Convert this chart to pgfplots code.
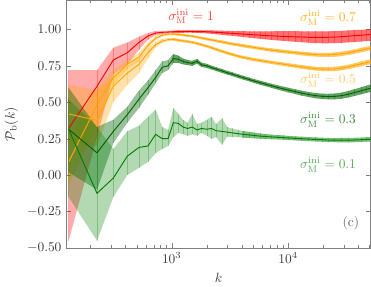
\documentclass[border=0pt]{standalone}
\usepackage{pgfplots}
\usepackage{pgfplotstable}
\pgfplotsset{compat=1.18}
\usepgfplotslibrary{fillbetween}
\definecolor{cred}{RGB}{255,0,0}
\definecolor{corange}{RGB}{255,165,0}
\definecolor{cdgreen}{RGB}{0,100,0}
\definecolor{cgreen}{RGB}{0,128,0}
\definecolor{axgray}{RGB}{128,128,128}
\definecolor{txgray}{RGB}{60,60,60}

\pgfplotstableread{
k m lo hi
130 0.32 -0.45 0.72
228 0.61 0.26 0.72
315 0.79 0.69 0.875
415 0.84 0.76 0.91
522 0.91 0.86 0.95
625 0.955 0.93 0.975
727 0.975 0.96 0.99
828 0.98 0.968 0.99
930 0.982 0.973 0.991
1032 0.984 0.976 0.992
1140 0.985 0.977 0.993
1250 0.985 0.977 0.993
1370 0.986 0.978 0.994
1500 0.986 0.977 0.994
1650 0.985 0.976 0.994
1800 0.985 0.975 0.994
2000 0.984 0.973 0.993
2200 0.982 0.970 0.993
2400 0.980 0.967 0.992
2700 0.978 0.963 0.991
3000 0.975 0.959 0.990
3300 0.973 0.956 0.989
3700 0.970 0.952 0.988
4100 0.968 0.948 0.988
4600 0.965 0.944 0.987
5100 0.963 0.940 0.987
5700 0.961 0.936 0.987
6400 0.958 0.932 0.987
7200 0.956 0.928 0.987
8000 0.954 0.925 0.988
9000 0.952 0.922 0.988
10000 0.951 0.919 0.988
11500 0.949 0.915 0.988
13000 0.948 0.912 0.987
15000 0.946 0.909 0.987
17000 0.945 0.906 0.986
19500 0.945 0.905 0.986
22000 0.946 0.905 0.987
25000 0.947 0.906 0.988
28500 0.950 0.908 0.990
32500 0.953 0.911 0.993
37000 0.957 0.914 0.995
42000 0.960 0.917 0.997
47000 0.963 0.920 0.999
51200 0.965 0.922 1.000
}\tred

\pgfplotstableread{
k m lo hi
130 0.09 -0.07 0.25
228 0.48 0.34 0.60
315 0.67 0.62 0.72
415 0.76 0.73 0.79
522 0.81 0.78 0.84
625 0.89 0.87 0.91
727 0.94 0.925 0.955
828 0.96 0.95 0.97
930 0.968 0.959 0.977
1032 0.968 0.960 0.976
1140 0.965 0.957 0.973
1250 0.961 0.953 0.969
1370 0.957 0.949 0.965
1500 0.953 0.945 0.961
1650 0.947 0.939 0.956
1800 0.941 0.932 0.950
2000 0.934 0.925 0.943
2200 0.928 0.919 0.937
2400 0.922 0.913 0.931
2700 0.914 0.904 0.924
3000 0.907 0.897 0.917
3300 0.900 0.890 0.910
3700 0.894 0.884 0.904
4100 0.888 0.877 0.899
4600 0.882 0.871 0.893
5100 0.876 0.865 0.887
5700 0.870 0.859 0.881
6400 0.864 0.853 0.875
7200 0.858 0.847 0.870
8000 0.854 0.842 0.866
9000 0.849 0.837 0.861
10000 0.845 0.833 0.857
11500 0.840 0.828 0.852
13000 0.835 0.822 0.848
15000 0.830 0.817 0.843
17000 0.827 0.814 0.840
19500 0.825 0.811 0.839
22000 0.825 0.811 0.839
25000 0.827 0.812 0.842
28500 0.832 0.817 0.847
32500 0.839 0.824 0.854
37000 0.848 0.833 0.863
42000 0.858 0.843 0.873
47000 0.866 0.851 0.881
51200 0.872 0.857 0.887
}\tosev

\pgfplotstableread{
k m lo hi
130 0.42 0.22 0.62
228 0.375 0.20 0.58
315 0.61 0.50 0.68
415 0.70 0.62 0.75
522 0.76 0.70 0.80
625 0.84 0.80 0.87
727 0.895 0.875 0.915
828 0.92 0.905 0.935
930 0.930 0.920 0.940
1032 0.932 0.923 0.941
1140 0.926 0.917 0.935
1250 0.921 0.912 0.930
1370 0.917 0.908 0.926
1500 0.911 0.902 0.920
1650 0.904 0.895 0.913
1800 0.895 0.886 0.904
2000 0.885 0.876 0.894
2200 0.874 0.865 0.883
2400 0.863 0.853 0.873
2700 0.850 0.840 0.860
3000 0.838 0.828 0.848
3300 0.828 0.818 0.838
3700 0.817 0.807 0.827
4100 0.808 0.798 0.818
4600 0.800 0.789 0.811
5100 0.793 0.782 0.804
5700 0.787 0.776 0.798
6400 0.780 0.769 0.791
7200 0.774 0.763 0.785
8000 0.768 0.757 0.779
9000 0.762 0.750 0.774
10000 0.756 0.744 0.768
11500 0.749 0.737 0.761
13000 0.743 0.730 0.756
15000 0.736 0.723 0.749
17000 0.731 0.718 0.744
19500 0.728 0.714 0.742
22000 0.727 0.713 0.741
25000 0.729 0.714 0.744
28500 0.734 0.719 0.749
32500 0.742 0.727 0.757
37000 0.752 0.737 0.767
42000 0.763 0.747 0.779
47000 0.772 0.756 0.788
51200 0.778 0.762 0.794
}\tofive

\pgfplotstableread{
k m lo hi
130 0.315 0.02 0.60
228 0.153 -0.10 0.33
315 0.30 0.22 0.38
415 0.415 0.36 0.47
522 0.52 0.46 0.58
625 0.60 0.55 0.65
727 0.67 0.63 0.72
828 0.74 0.70 0.78
930 0.75 0.72 0.79
1032 0.80 0.77 0.83
1140 0.795 0.77 0.82
1250 0.780 0.760 0.800
1370 0.772 0.755 0.790
1500 0.767 0.750 0.784
1650 0.782 0.765 0.798
1800 0.757 0.742 0.772
2000 0.750 0.736 0.764
2200 0.738 0.725 0.751
2400 0.728 0.715 0.741
2700 0.715 0.702 0.728
3000 0.703 0.690 0.716
3300 0.693 0.680 0.706
3700 0.680 0.667 0.693
4100 0.669 0.656 0.682
4600 0.657 0.644 0.670
5100 0.646 0.633 0.659
5700 0.635 0.621 0.649
6400 0.624 0.610 0.638
7200 0.613 0.599 0.627
8000 0.603 0.588 0.618
9000 0.593 0.578 0.608
10000 0.584 0.568 0.600
11500 0.573 0.557 0.589
13000 0.563 0.546 0.580
15000 0.553 0.536 0.570
17000 0.546 0.528 0.564
19500 0.541 0.523 0.559
22000 0.539 0.520 0.558
25000 0.540 0.520 0.560
28500 0.545 0.524 0.566
32500 0.554 0.532 0.576
37000 0.566 0.543 0.589
42000 0.578 0.554 0.602
47000 0.589 0.564 0.614
51200 0.597 0.572 0.622
}\tthree

\pgfplotstableread{
k m lo hi
130 0.315 -0.15 0.52
228 -0.125 -0.45 0.33
315 -0.02 -0.15 0.18
415 0.13 0.00 0.30
522 0.19 0.05 0.34
625 0.20 0.09 0.40
727 0.28 0.15 0.45
828 0.25 0.18 0.33
930 0.25 0.20 0.31
1032 0.36 0.26 0.46
1140 0.355 0.29 0.42
1250 0.33 0.28 0.38
1370 0.32 0.27 0.36
1500 0.33 0.28 0.42
1650 0.31 0.27 0.35
1800 0.32 0.29 0.36
2000 0.315 0.27 0.38
2200 0.32 0.25 0.40
2400 0.305 0.26 0.35
2700 0.30 0.21 0.39
3000 0.295 0.265 0.33
3300 0.290 0.26 0.32
3700 0.285 0.262 0.31
4100 0.280 0.257 0.303
4600 0.276 0.255 0.297
5100 0.272 0.252 0.292
5700 0.268 0.250 0.286
6400 0.265 0.248 0.282
7200 0.262 0.246 0.278
8000 0.260 0.245 0.275
9000 0.258 0.243 0.273
10000 0.255 0.241 0.269
11500 0.252 0.238 0.266
13000 0.250 0.236 0.264
15000 0.247 0.233 0.261
17000 0.245 0.231 0.259
19500 0.243 0.229 0.257
22000 0.241 0.227 0.255
25000 0.240 0.226 0.254
28500 0.240 0.225 0.255
32500 0.240 0.225 0.255
37000 0.241 0.226 0.256
42000 0.243 0.228 0.258
47000 0.245 0.230 0.260
51200 0.246 0.231 0.261
}\tone

\begin{document}
\begin{tikzpicture}
\begin{axis}[
  xmode=log,
  scale only axis,
  width=226.7pt, height=184.4pt,
  xmin=124, xmax=51200, ymin=-0.5, ymax=1.2,
  xtick={1000,10000},
  minor xtick={200,300,400,500,600,700,800,900,2000,3000,4000,5000,6000,7000,8000,9000,20000,30000,40000,50000},
  ytick={-0.5,-0.25,0,0.25,0.5,0.75,1},
  yticklabel style={/pgf/number format/fixed, /pgf/number format/fixed zerofill, /pgf/number format/precision=2},
  axis line style={axgray},
  tick style={axgray},
  major tick length=3.7pt, minor tick length=2.2pt,
  tick label style={text=txgray},
  label style={text=txgray},
  xlabel={$k$}, ylabel={$\mathcal{P}_{\rm b}(k)$},
  clip=true,
  ebar/.style={forget plot, draw=none, mark=none, error bars/.cd, y dir=both, y explicit, error mark=none, error bar style={line width=0.25pt, draw=#1, opacity=0.28}},
]
% red sigma = 1
\addplot[name path=ru, draw=none, forget plot] table[x=k,y=hi]{\tred};
\addplot[name path=rl, draw=none, forget plot] table[x=k,y=lo]{\tred};
\addplot[cred, fill opacity=0.33, draw=none, forget plot] fill between[of=ru and rl];
\addplot[cred, fill opacity=0.35, draw=none, forget plot] fill between[of=ru and rl, soft clip={(axis cs:1000,-1) rectangle (axis cs:60000,2)}];
\addplot[ebar=cred] table[x=k, y=m, y error plus expr=\thisrow{hi}-\thisrow{m}, y error minus expr=\thisrow{m}-\thisrow{lo}]{\tred};
\addplot[cred, line width=0.7pt, mark=none] table[x=k,y=m]{\tred};
% orange 0.7
\addplot[name path=au, draw=none, forget plot] table[x=k,y=hi]{\tosev};
\addplot[name path=al, draw=none, forget plot] table[x=k,y=lo]{\tosev};
\addplot[corange, fill opacity=0.33, draw=none, forget plot] fill between[of=au and al];
\addplot[corange, fill opacity=0.4, draw=none, forget plot] fill between[of=au and al, soft clip={(axis cs:1000,-1) rectangle (axis cs:60000,2)}];
\addplot[ebar=corange] table[x=k, y=m, y error plus expr=\thisrow{hi}-\thisrow{m}, y error minus expr=\thisrow{m}-\thisrow{lo}]{\tosev};
\addplot[corange, line width=0.7pt, mark=none] table[x=k,y=m]{\tosev};
% orange 0.5
\addplot[name path=bu, draw=none, forget plot] table[x=k,y=hi]{\tofive};
\addplot[name path=bl, draw=none, forget plot] table[x=k,y=lo]{\tofive};
\addplot[corange, fill opacity=0.33, draw=none, forget plot] fill between[of=bu and bl];
\addplot[corange, fill opacity=0.4, draw=none, forget plot] fill between[of=bu and bl, soft clip={(axis cs:1000,-1) rectangle (axis cs:60000,2)}];
\addplot[ebar=corange] table[x=k, y=m, y error plus expr=\thisrow{hi}-\thisrow{m}, y error minus expr=\thisrow{m}-\thisrow{lo}]{\tofive};
\addplot[corange, line width=0.7pt, mark=none] table[x=k,y=m]{\tofive};
% dark green 0.3
\addplot[name path=cu, draw=none, forget plot] table[x=k,y=hi]{\tthree};
\addplot[name path=cl, draw=none, forget plot] table[x=k,y=lo]{\tthree};
\addplot[cdgreen, fill opacity=0.4, draw=none, forget plot] fill between[of=cu and cl];
\addplot[cdgreen, fill opacity=0.35, draw=none, forget plot] fill between[of=cu and cl, soft clip={(axis cs:1000,-1) rectangle (axis cs:60000,2)}];
\addplot[ebar=cdgreen] table[x=k, y=m, y error plus expr=\thisrow{hi}-\thisrow{m}, y error minus expr=\thisrow{m}-\thisrow{lo}]{\tthree};
\addplot[cdgreen, line width=0.7pt, mark=none] table[x=k,y=m]{\tthree};
% green 0.1
\addplot[name path=du, draw=none, forget plot] table[x=k,y=hi]{\tone};
\addplot[name path=dl, draw=none, forget plot] table[x=k,y=lo]{\tone};
\addplot[cgreen, fill opacity=0.3, draw=none, forget plot] fill between[of=du and dl];
\addplot[cgreen, fill opacity=0.3, draw=none, forget plot] fill between[of=du and dl, soft clip={(axis cs:4000,-1) rectangle (axis cs:60000,2)}];
\addplot[ebar=cgreen] table[x=k, y=m, y error plus expr=\thisrow{hi}-\thisrow{m}, y error minus expr=\thisrow{m}-\thisrow{lo}]{\tone};
\addplot[cgreen, line width=0.7pt, mark=none] table[x=k,y=m]{\tone};
% labels
\node[text=cred!75, anchor=center] at (rel axis cs:0.41,0.935) {$\sigma_{\rm M}^{\rm ini} = 1$};
\node[text=corange!85, anchor=east] at (rel axis cs:0.967,0.928) {$\sigma_{\rm M}^{\rm ini} = 0.7$};
\node[text=corange!60, anchor=east] at (rel axis cs:0.967,0.679) {$\sigma_{\rm M}^{\rm ini} = 0.5$};
\node[text=cdgreen!75, anchor=east] at (rel axis cs:0.967,0.518) {$\sigma_{\rm M}^{\rm ini} = 0.3$};
\node[text=cgreen!65, anchor=east] at (rel axis cs:0.967,0.335) {$\sigma_{\rm M}^{\rm ini} = 0.1$};
\node[text=txgray!80] at (rel axis cs:0.935,0.100) {(c)};
\end{axis}
\end{tikzpicture}
\end{document}
